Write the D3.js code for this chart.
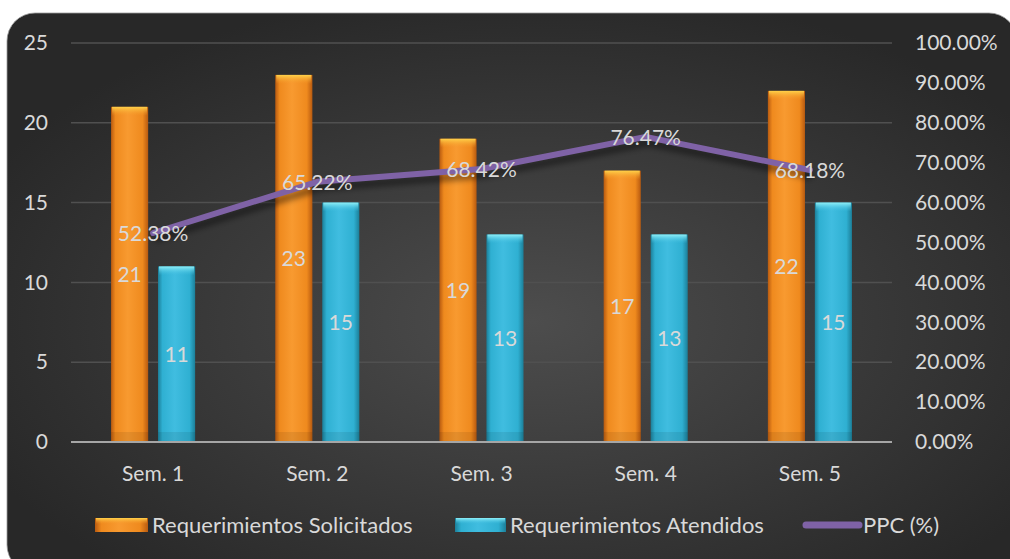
<!DOCTYPE html>
<meta charset="utf-8">
<style>
body { margin: 0; background: #fff; }
text { font-family: Lato, "Open Sans", sans-serif; fill: #d9d9d9; }
</style>
<body>
<script src="https://d3js.org/d3.v7.min.js"></script>
<script>
// chart data
var semanas = ["Sem. 1", "Sem. 2", "Sem. 3", "Sem. 4", "Sem. 5"];
var solicitados = [21, 23, 19, 17, 22];
var atendidos = [11, 15, 13, 13, 15];
var ppc = [52.38, 65.22, 68.42, 76.47, 68.18];
var leftTicks = [0, 5, 10, 15, 20, 25];
var rightTicks = [0, 10, 20, 30, 40, 50, 60, 70, 80, 90, 100];

var W = 1010, H = 559;
var margin = {top: 43, left: 71, right: 118, bottom: 117};
var fs = "21px";

var svg = d3.select("body").append("svg")
    .attr("width", W)
    .attr("height", H);

var defs = svg.append("defs");

// background gradient
var bg = defs.append("radialGradient").attr("id", "bg")
    .attr("cx", "52%").attr("cy", "55%").attr("r", "60%");
bg.append("stop").attr("offset", "0%").attr("stop-color", "#4d4d4d");
bg.append("stop").attr("offset", "100%").attr("stop-color", "#282828");

function barGrad(id, dark, mid, light) {
  var g = defs.append("linearGradient").attr("id", id)
      .attr("x1", "0%").attr("x2", "100%").attr("y1", "0%").attr("y2", "0%");
  g.append("stop").attr("offset", "0%").attr("stop-color", dark);
  g.append("stop").attr("offset", "12%").attr("stop-color", mid);
  g.append("stop").attr("offset", "45%").attr("stop-color", light);
  g.append("stop").attr("offset", "85%").attr("stop-color", mid);
  g.append("stop").attr("offset", "100%").attr("stop-color", dark);
}
barGrad("gOrange", "#b85a10", "#ef8a1e", "#f89a30");
barGrad("gCyan", "#1c7f99", "#2fb0d2", "#40bde0");

var cap = defs.append("linearGradient").attr("id", "capO")
    .attr("x1", 0).attr("x2", 0).attr("y1", 0).attr("y2", 1);
cap.append("stop").attr("offset", "0%").attr("stop-color", "#ffd24a");
cap.append("stop").attr("offset", "100%").attr("stop-color", "#f59a2a").attr("stop-opacity", 0);
var capC = defs.append("linearGradient").attr("id", "capC")
    .attr("x1", 0).attr("x2", 0).attr("y1", 0).attr("y2", 1);
capC.append("stop").attr("offset", "0%").attr("stop-color", "#8ff0f8");
capC.append("stop").attr("offset", "100%").attr("stop-color", "#40bde0").attr("stop-opacity", 0);

defs.append("filter").attr("id", "shadow")
    .attr("x", "-10%").attr("y", "-50%").attr("width", "120%").attr("height", "200%")
  .append("feGaussianBlur").attr("stdDeviation", 3);

svg.append("rect")
    .attr("x", 7).attr("y", 13)
    .attr("width", 1010).attr("height", 560)
    .attr("rx", 28)
    .attr("fill", "url(#bg)")
    .attr("stroke", "#9a9a9a").attr("stroke-width", 0.8);

var x0 = d3.scaleBand()
    .domain(semanas)
    .range([margin.left, W - margin.right])
    .paddingInner(0.488)
    .paddingOuter(0.244);

var series = ["sol", "ate"];
var x1 = d3.scaleBand()
    .domain(series)
    .range([0, x0.bandwidth()])
    .paddingInner(0.21);

var y = d3.scaleLinear().domain([0, 25]).range([H - margin.bottom, margin.top]);
var y2 = d3.scaleLinear().domain([0, 100]).range([H - margin.bottom, margin.top]);

// gridlines
svg.append("g")
  .selectAll("line")
  .data(leftTicks.slice(1))
  .enter().append("line")
    .attr("x1", margin.left).attr("x2", W - margin.right)
    .attr("y1", function(d) { return y(d); })
    .attr("y2", function(d) { return y(d); })
    .attr("stroke", "#505050").attr("stroke-width", 1.5);

// left axis
var yAxis = svg.append("g")
    .attr("transform", "translate(" + (margin.left - 23) + ",0)")
    .call(d3.axisLeft(y).tickValues(leftTicks).tickSize(0).tickPadding(0));
yAxis.select(".domain").remove();
yAxis.selectAll("text").style("font-size", fs).attr("fill", "#d9d9d9");

// right axis
var y2Axis = svg.append("g")
    .attr("transform", "translate(" + (W - margin.right + 23) + ",0)")
    .call(d3.axisRight(y2).tickValues(rightTicks).tickSize(0).tickPadding(0)
      .tickFormat(function(d) { return d.toFixed(2) + "%"; }));
y2Axis.select(".domain").remove();
y2Axis.selectAll("text").style("font-size", fs).attr("fill", "#d9d9d9");

// x axis
var xAxis = svg.append("g")
    .attr("transform", "translate(0," + (H - margin.bottom) + ")")
    .call(d3.axisBottom(x0).tickSize(0).tickPadding(24));
xAxis.select(".domain").remove();
xAxis.selectAll("text").style("font-size", fs).attr("fill", "#d9d9d9");

// bars
var rows = semanas.map(function(s, i) {
  return {sem: s, vals: [{k: "sol", v: solicitados[i]}, {k: "ate", v: atendidos[i]}]};
});

var groups = svg.append("g").selectAll("g")
  .data(rows)
  .enter().append("g")
    .attr("transform", function(d) { return "translate(" + x0(d.sem) + ",0)"; });

var bars = groups.selectAll("g")
  .data(function(d) { return d.vals; })
  .enter().append("g");

bars.append("rect")
    .attr("x", function(d) { return x1(d.k); })
    .attr("y", function(d) { return y(d.v); })
    .attr("width", x1.bandwidth())
    .attr("height", function(d) { return y(0) - y(d.v); })
    .attr("fill", function(d) { return d.k == "sol" ? "url(#gOrange)" : "url(#gCyan)"; });

// top highlight cap
bars.append("rect")
    .attr("x", function(d) { return x1(d.k) + 1; })
    .attr("y", function(d) { return y(d.v); })
    .attr("width", x1.bandwidth() - 2)
    .attr("height", 9)
    .attr("fill", function(d) { return d.k == "sol" ? "url(#capO)" : "url(#capC)"; });

// bottom darker base
bars.append("rect")
    .attr("x", function(d) { return x1(d.k); })
    .attr("y", y(0) - 10)
    .attr("width", x1.bandwidth())
    .attr("height", 10)
    .attr("fill", "#000").attr("opacity", 0.08);

bars.append("text")
    .attr("x", function(d) { return x1(d.k) + x1.bandwidth() / 2; })
    .attr("y", function(d) { return (y(d.v) + y(0)) / 2; })
    .attr("dy", "0.35em")
    .attr("text-anchor", "middle")
    .style("font-size", fs)
    .text(function(d) { return d.v; });

// baseline
svg.append("line")
    .attr("x1", margin.left).attr("x2", W - margin.right)
    .attr("y1", y(0)).attr("y2", y(0))
    .attr("stroke", "#a6a6a6").attr("stroke-width", 2);

// ppc line
var line = d3.line()
    .x(function(d, i) { return x0(semanas[i]) + x0.bandwidth() / 2; })
    .y(function(d) { return y2(d); });

svg.append("path")
    .datum(ppc)
    .attr("d", line)
    .attr("transform", "translate(2,6)")
    .attr("fill", "none")
    .attr("stroke", "#000").attr("stroke-opacity", 0.5)
    .attr("stroke-width", 6)
    .attr("filter", "url(#shadow)");

svg.append("path")
    .datum(ppc)
    .attr("d", line)
    .attr("fill", "none")
    .attr("stroke", "#7f62a6")
    .attr("stroke-width", 6)
    .attr("stroke-linecap", "round")
    .attr("stroke-linejoin", "round");

svg.append("g").selectAll("text")
  .data(ppc)
  .enter().append("text")
    .attr("x", function(d, i) { return x0(semanas[i]) + x0.bandwidth() / 2; })
    .attr("y", function(d) { return y2(d) + 1; })
    .attr("dy", "0.35em")
    .attr("text-anchor", "middle")
    .style("font-size", fs)
    .text(function(d) { return d.toFixed(2) + "%"; });

// legend
var legY = 525;
var lfs = "22px";
var leg = svg.append("g");
leg.append("rect").attr("x", 95).attr("y", legY - 7).attr("width", 53).attr("height", 14)
    .attr("fill", "url(#gOrange)");
leg.append("rect").attr("x", 96).attr("y", legY - 7).attr("width", 51).attr("height", 6)
    .attr("fill", "url(#capO)");
leg.append("text").attr("x", 152).attr("y", legY).attr("dy", "0.35em")
    .style("font-size", lfs).text("Requerimientos Solicitados");

leg.append("rect").attr("x", 455).attr("y", legY - 7).attr("width", 51).attr("height", 14)
    .attr("fill", "url(#gCyan)");
leg.append("rect").attr("x", 456).attr("y", legY - 7).attr("width", 49).attr("height", 6)
    .attr("fill", "url(#capC)");
leg.append("text").attr("x", 510).attr("y", legY).attr("dy", "0.35em")
    .style("font-size", lfs).text("Requerimientos Atendidos");

leg.append("line").attr("x1", 806).attr("x2", 859).attr("y1", legY).attr("y2", legY)
    .attr("stroke", "#7f62a6").attr("stroke-width", 7).attr("stroke-linecap", "round");
leg.append("text").attr("x", 863).attr("y", legY).attr("dy", "0.35em")
    .style("font-size", lfs).text("PPC (%)");
</script>
</body>
